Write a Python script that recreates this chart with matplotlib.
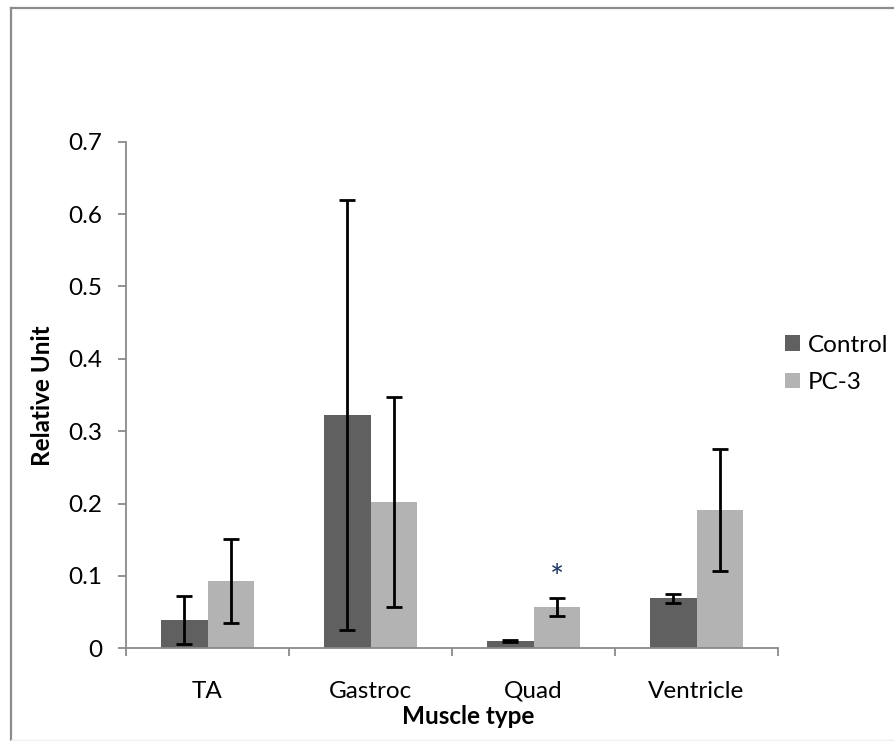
import matplotlib
matplotlib.use("Agg")
import matplotlib.pyplot as plt
import numpy as np
from matplotlib.lines import Line2D
from matplotlib.patches import Patch

plt.rcParams['font.family'] = ['Lato', 'DejaVu Sans']

categories = ["TA", "Gastroc", "Quad", "Ventricle"]
control_mean = [0.039, 0.322, 0.0105, 0.069]
control_err = [0.033, 0.297, 0.0012, 0.0065]
pc3_mean = [0.093, 0.202, 0.057, 0.191]
pc3_err = [0.058, 0.145, 0.013, 0.084]
series_names = ["Control", "PC-3"]
yticks = [0, 0.1, 0.2, 0.3, 0.4, 0.5, 0.6, 0.7]
ytick_labels = ["0", "0.1", "0.2", "0.3", "0.4", "0.5", "0.6", "0.7"]
star_position = (2, 0.104)

W, H = 894, 741
fs = 17.5
fig = plt.figure(figsize=(W / 100, H / 100), dpi=100)
fig.patch.set_facecolor("white")

ax = fig.add_axes([126 / W, 1 - 648.3 / H, (778 - 126) / W, (648.3 - 141.7) / H])

x = np.arange(len(categories))
w = 1 / 3.5
dark = "#606060"
light = "#b3b3b3"
axis_gray = "#8a8a8a"

ax.bar(x - w / 2, control_mean, width=w, color=dark, edgecolor="none", zorder=2)
ax.bar(x + w / 2, pc3_mean, width=w, color=light, edgecolor="none", zorder=2)
err_kw = dict(fmt="none", ecolor="black", elinewidth=2.0, capsize=5.5, capthick=2.0, zorder=3)
ax.errorbar(x - w / 2, control_mean, yerr=control_err, **err_kw)
ax.errorbar(x + w / 2, pc3_mean, yerr=pc3_err, **err_kw)

ax.annotate("*", xy=(star_position[0] + w / 2, star_position[1]), xytext=(0, -4),
            textcoords="offset points", ha="center", va="center",
            fontsize=24, color="#1f3864", zorder=4)

ax.set_xlim(-0.5, len(categories) - 0.5)
ax.set_ylim(0, 0.7)

for side in ("top", "right"):
    ax.spines[side].set_visible(False)
for side in ("left", "bottom"):
    ax.spines[side].set_color(axis_gray)
    ax.spines[side].set_linewidth(1.3)

ax.set_yticks(yticks)
ax.set_yticklabels(ytick_labels)
ax.set_xticks(np.arange(-0.5, len(categories), 1.0))
ax.set_xticklabels([])
ax.set_xticks(x, minor=True)
ax.set_xticklabels(categories, minor=True)
ax.tick_params(axis="x", which="major", direction="out", length=6, width=1.3, color=axis_gray)
ax.tick_params(axis="x", which="minor", length=0, pad=23.5, labelsize=fs)
ax.tick_params(axis="y", direction="out", length=6, width=1.3, color=axis_gray,
               pad=11, labelsize=fs)

fig.text(468 / W, 1 - 717 / H, "Muscle type", ha="center", va="center",
         fontsize=fs, fontweight="bold")
fig.text(43 / W, 1 - 396 / H, "Relative Unit", ha="center", va="center",
         rotation=90, fontsize=fs, fontweight="bold")

handles = [Patch(facecolor=dark, edgecolor="none"), Patch(facecolor=light, edgecolor="none")]
fig.legend(handles, series_names, loc="center left", bbox_to_anchor=(785 / W, 1 - 364 / H),
           bbox_transform=fig.transFigure, frameon=False, fontsize=fs,
           handlelength=0.6, handleheight=0.6, handletextpad=0.35,
           labelspacing=0.68, borderpad=0, borderaxespad=0)

# chart frame
fig.add_artist(Line2D([11 / W, 11 / W], [0, 1 - 8 / H], transform=fig.transFigure,
                      color="#8c8c8c", linewidth=1.6))
fig.add_artist(Line2D([11 / W, 1], [1 - 8 / H, 1 - 8 / H], transform=fig.transFigure,
                      color="#8c8c8c", linewidth=1.6))
fig.add_artist(Line2D([11 / W, 1], [1 - 740 / H, 1 - 740 / H], transform=fig.transFigure,
                      color="#eeeeee", linewidth=1.0))

fig.savefig("out.png", dpi=100, facecolor="white")
